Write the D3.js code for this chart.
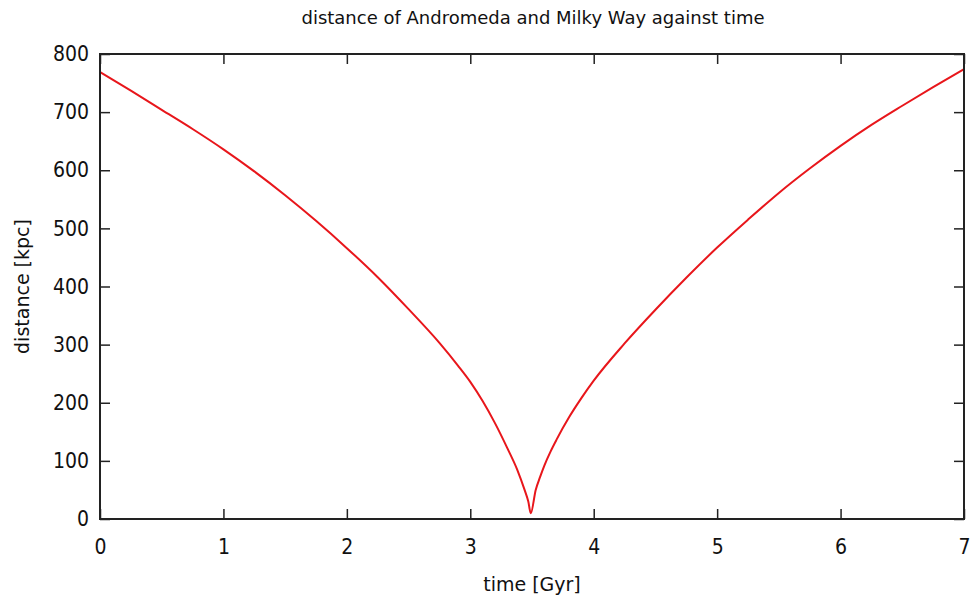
<!DOCTYPE html>
<html>
<head>
<meta charset="utf-8">
<script src="https://cdn.jsdelivr.net/npm/d3@7"></script>
<style>
  body { margin: 0; background: #fff; }
  text { font-family: "DejaVu Sans", Verdana, sans-serif; fill: #111; }
  .tick text { font-family: "DejaVu Sans Condensed", "DejaVu Sans", sans-serif; font-stretch: condensed; }
</style>
</head>
<body>
<div id="container"></div>
<script>
// time in Gyr, distance in kpc
const time = [0, 0.25, 0.5, 0.75, 1.0, 1.25, 1.5, 1.75, 2.0, 2.25, 2.5, 2.75, 2.9, 3.0, 3.1, 3.2, 3.3, 3.38, 3.44, 3.47, 3.49,
  3.53, 3.565, 3.6, 3.65, 3.7, 3.8, 3.9, 4.0, 4.25, 4.5, 4.75, 5.0, 5.25, 5.5, 5.75, 6.0, 6.25, 6.5, 6.75, 7.0];
const distance = [769, 737, 704, 671, 636, 598, 557, 513, 466, 416, 361, 303, 264, 236, 203, 165, 122, 85, 50, 30, 10,
  50, 72, 92, 116, 137, 175, 208, 238, 302, 360, 415, 467, 515, 561, 603, 642, 678, 711, 743, 774];
const xTicks = [0, 1, 2, 3, 4, 5, 6, 7];
const yTicks = [0, 100, 200, 300, 400, 500, 600, 700, 800];

const W = 973, H = 600;
const margin = { left: 100, right: 9, top: 54, bottom: 81 };
const width = W - margin.left - margin.right;
const height = H - margin.top - margin.bottom;

const svg = d3.select("#container").append("svg")
  .attr("width", W).attr("height", H);

const chart = svg.append("g")
  .attr("transform", `translate(${margin.left}, ${margin.top})`);

const x = d3.scaleLinear().domain([0, 7]).range([0, width]);
const y = d3.scaleLinear().domain([0, 800]).range([height, 0]);

// inward ticks on all four sides, like gnuplot mirror tics
const tick = 10;
const axisStyle = g => {
  g.select(".domain").remove();
  g.selectAll(".tick line").attr("stroke", "#222").attr("stroke-width", 1.5);
  g.selectAll(".tick text").style("font-size", "21px").attr("fill", "#111");
};

chart.append("g")
  .attr("transform", `translate(0, ${height})`)
  .call(d3.axisBottom(x).tickValues(xTicks).tickFormat(d3.format("d")).tickSizeInner(-tick).tickPadding(20))
  .call(axisStyle);

chart.append("g")
  .call(d3.axisTop(x).tickValues(xTicks).tickFormat("").tickSizeInner(-tick))
  .call(axisStyle);

chart.append("g")
  .call(d3.axisLeft(y).tickValues(yTicks).tickFormat(d3.format("d")).tickSizeInner(-tick).tickPadding(11))
  .call(axisStyle);

chart.append("g")
  .attr("transform", `translate(${width}, 0)`)
  .call(d3.axisRight(y).tickValues(yTicks).tickFormat("").tickSizeInner(-tick))
  .call(axisStyle);

const pts = time.map((t, i) => [t, distance[i]]);
const line = d3.line()
  .x(d => x(d[0]))
  .y(d => y(d[1]))
  .curve(d3.curveMonotoneX);

chart.append("path")
  .datum(pts)
  .attr("fill", "none")
  .attr("stroke", "#e8161b")
  .attr("stroke-width", 2)
  .attr("d", line);

// frame
chart.append("rect")
  .attr("width", width).attr("height", height)
  .attr("fill", "none").attr("stroke", "#222").attr("stroke-width", 2);

svg.append("text")
  .attr("x", 533).attr("y", 24)
  .attr("text-anchor", "middle")
  .style("font-size", "18px")
  .text("distance of Andromeda and Milky Way against time");

svg.append("text")
  .attr("x", margin.left + width / 2).attr("y", 591)
  .attr("text-anchor", "middle")
  .style("font-size", "19px")
  .text("time [Gyr]");

svg.append("text")
  .attr("transform", `translate(29, ${margin.top + height / 2}) rotate(-90)`)
  .attr("text-anchor", "middle")
  .style("font-size", "19px")
  .text("distance [kpc]");
</script>
</body>
</html>
